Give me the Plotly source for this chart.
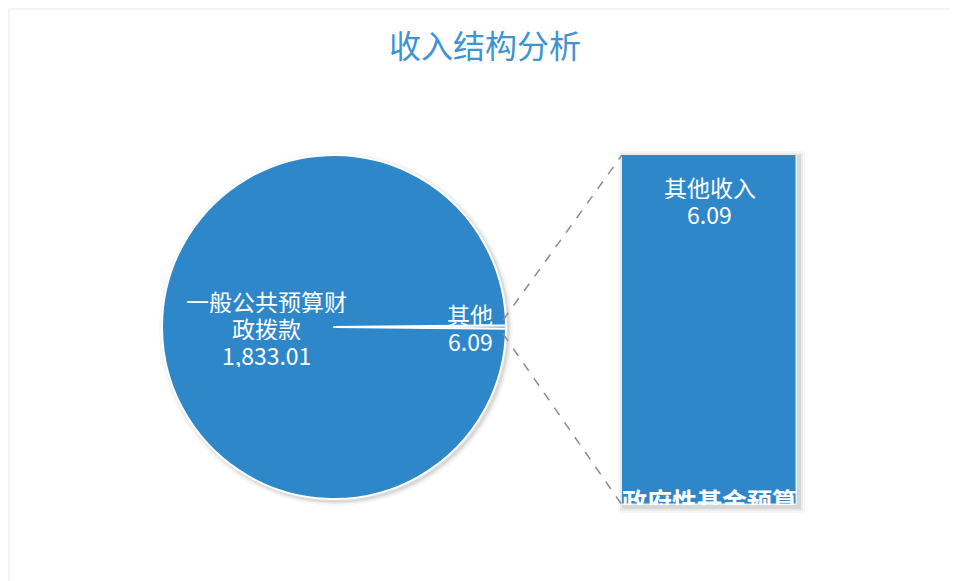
import math
import plotly.graph_objects as go

# ---------------- data ----------------
title_text = "收入结构分析"
pie_labels = ["其他", "一般公共预算财政拨款"]
pie_values = [6.09, 1833.01]
pie_label_lines = [["其他"], ["一般公共预算财", "政拨款"]]
bar_labels = ["政府性基金预算财政拨款", "其他收入"]
bar_values = [0.0, 6.09]
bar_bottom_visible = "政府性基金预算"

# ---------------- layout geometry (px, page coordinates) ----------------
W, H = 958, 581
OFF = 8                              # page body margin
cx, cy, R = 334, 327, 172            # pie centre / radius
bx0, bx1, by0, by1 = 622, 797, 155, 505  # bar box
BLUE = "#2E87C9"
FONT = "Noto Sans CJK SC"
LBL = 23
LH = 27

def px(x):
    return (x - OFF) / W

def py(y):
    return 1 - (y - OFF) / H

total = sum(pie_values)
small_angle = 360 * pie_values[0] / total
rotation = 90 - small_angle / 2

fig = go.Figure()

fig.add_trace(go.Pie(
    labels=pie_labels,
    values=pie_values,
    sort=False,
    direction="clockwise",
    rotation=rotation,
    textinfo="none",
    hoverinfo="label+value",
    marker=dict(colors=[BLUE, BLUE], line=dict(color="white", width=2)),
    domain=dict(x=[px(cx - R), px(cx + R)], y=[py(cy + R), py(cy - R)]),
    showlegend=False,
))

fig.add_trace(go.Bar(
    x=["其他"] * len(bar_values),
    y=bar_values,
    name="",
    marker=dict(color=BLUE, line=dict(color="#dff0fb", width=1.5)),
    showlegend=False,
    hovertext=bar_labels,
    xaxis="x", yaxis="y",
))

fig.add_trace(go.Scatter(
    x=["其他"], y=[0],
    mode="text",
    text=[bar_bottom_visible],
    textposition="middle center",
    textfont=dict(family=FONT, size=25, color="white", weight="bold"),
    cliponaxis=True,
    showlegend=False,
    hoverinfo="skip",
))

def line_block(lines, x, ycenter):
    out = []
    n = len(lines)
    for i, t in enumerate(lines):
        yy = ycenter + (i - (n - 1) / 2) * LH
        out.append(dict(text=t, x=px(x), y=py(yy), xref="paper", yref="paper",
                        showarrow=False, font=dict(family=FONT, size=LBL, color="white"),
                        height=LH - 2, valign="middle",
                        xanchor="center", yanchor="middle"))
    return out

annotations = [
    dict(text=title_text, x=px(485), y=py(44), xref="paper", yref="paper",
         showarrow=False, font=dict(family=FONT, size=32, color="#3E93D1"),
         xanchor="center", yanchor="middle"),
]
annotations += line_block(pie_label_lines[1] + [f"{pie_values[1]:,.2f}"], 266, 327)
annotations += line_block(pie_label_lines[0] + [f"{pie_values[0]:,.2f}"], 470, 327)
# bar label anchored to the top of the bar (data coordinates)
annotations.append(dict(text=bar_labels[1], x="其他", y=sum(bar_values), xref="x", yref="y",
                        showarrow=False, yshift=-17, height=LH - 2, valign="middle",
                        font=dict(family=FONT, size=LBL, color="white"),
                        xanchor="center", yanchor="top"))
annotations.append(dict(text=f"{bar_values[1]:,.2f}", x="其他", y=sum(bar_values), xref="x", yref="y",
                        showarrow=False, yshift=-17 - LH, height=LH - 2, valign="middle",
                        font=dict(family=FONT, size=LBL, color="white"),
                        xanchor="center", yanchor="top"))

# connector lines from the small slice edge to bar corners
a1 = math.radians(small_angle / 2)
p_top = (cx + R * math.cos(a1) - 3, cy - R * math.sin(a1) - 5)
p_bot = (cx + R * math.cos(a1) - 3, cy + R * math.sin(a1) + 5)
shapes = [
    dict(type="rect", xref="paper", yref="paper", x0=px(9), x1=1.02, y0=-0.02, y1=py(9),
         line=dict(color="#e6e6e6", width=1), fillcolor="rgba(0,0,0,0)", layer="below"),
]
for off, op in [(6, 0.03), (4, 0.05), (2, 0.08)]:
    shapes.append(dict(type="rect", xref="paper", yref="paper",
                       x0=px(bx0 - off + 2), x1=px(bx1 + off + 2),
                       y0=py(by1 + off + 2), y1=py(by0 - off + 2),
                       line=dict(width=0), fillcolor=f"rgba(0,0,0,{op})", layer="below"))
for off, op in [(5, 0.03), (3, 0.05), (1.5, 0.07)]:
    shapes.append(dict(type="circle", xref="paper", yref="paper",
                       x0=px(cx - R - off + 2), x1=px(cx + R + off + 2),
                       y0=py(cy + R + off + 2), y1=py(cy - R - off + 2),
                       line=dict(width=0), fillcolor=f"rgba(0,0,0,{op})", layer="below"))
shapes += [
    dict(type="line", xref="paper", yref="paper",
         x0=px(p_top[0]), y0=py(p_top[1]), x1=px(bx0), y1=py(by0),
         line=dict(color="#8a8a8a", width=1.5, dash="dash")),
    dict(type="line", xref="paper", yref="paper",
         x0=px(p_bot[0]), y0=py(p_bot[1]), x1=px(bx0), y1=py(by1),
         line=dict(color="#8a8a8a", width=1.5, dash="dash")),
]

fig.update_layout(
    width=W, height=H,
    margin=dict(l=0, r=0, t=0, b=0),
    paper_bgcolor="white", plot_bgcolor="rgba(0,0,0,0)",
    barmode="stack", bargap=0,
    xaxis=dict(domain=[px(bx0), px(bx1)], visible=False, fixedrange=True),
    yaxis=dict(domain=[py(by1), py(by0)], range=[0, sum(bar_values)],
               visible=False, fixedrange=True),
    annotations=annotations,
    shapes=shapes,
    font=dict(family=FONT),
)

fig.write_html("out.html")
